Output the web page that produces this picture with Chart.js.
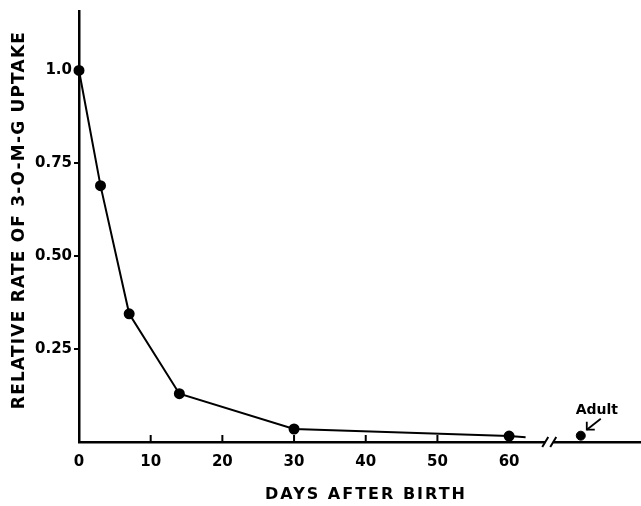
<!DOCTYPE html>
<html>
<head>
<meta charset="utf-8">
<script src="https://cdn.jsdelivr.net/npm/chart.js@4.4.0/dist/chart.umd.min.js"></script>
<style>
  html, body { margin: 0; padding: 0; background: #fff; }
  #wrap { width: 641px; height: 506px; position: relative; }
</style>
</head>
<body>
<div id="wrap"><canvas id="myChart"></canvas></div>
<script>
// values
var days = [0, 3, 7, 14, 30, 60];
var rate = [1.0, 0.69, 0.345, 0.13, 0.035, 0.016];
// the line runs on a little past the day-60 point
var tailDay = 62.3;
var tailRate = 0.013;
var adultDay = 70;
var adultRate = 0.017;
var breakDay = 65.6;

var xTicks = [0, 10, 20, 30, 40, 50, 60];
var yTicks = [0.25, 0.5, 0.75, 1.0];

var FONT = '"DejaVu Sans", sans-serif';

var curve = days.map(function (d, i) { return { x: d, y: rate[i] } });
curve.push({ x: tailDay, y: tailRate });
var curveRadius = days.map(function () { return 4.5 });
curveRadius.push(0);

// extra bits: inside x ticks, axis break, Adult label, axis titles
var decor = {
    id: 'decor',
    afterDraw: function (chart) {
        var ctx = chart.ctx;
        var xs = chart.scales.x;
        var area = chart.chartArea;
        var bottom = area.bottom;
        ctx.save();
        ctx.strokeStyle = '#000';
        ctx.fillStyle = '#000';
        ctx.lineWidth = 2;

        // x ticks point up into the plot
        xTicks.forEach(function (d) {
            if (d === 0) return;
            var px = xs.getPixelForValue(d);
            ctx.beginPath();
            ctx.moveTo(px, bottom);
            ctx.lineTo(px, bottom - 7);
            ctx.stroke();
        });

        // axis break  //
        var bx = xs.getPixelForValue(breakDay);
        ctx.fillStyle = '#fff';
        ctx.fillRect(bx - 4, bottom - 3, 8, 6);
        ctx.fillStyle = '#000';
        [-4, 4].forEach(function (off) {
            ctx.beginPath();
            ctx.moveTo(bx + off - 3, bottom + 5);
            ctx.lineTo(bx + off + 3, bottom - 5);
            ctx.stroke();
        });

        // Adult label and arrow
        var ax = xs.getPixelForValue(adultDay);
        var ay = chart.scales.y.getPixelForValue(adultRate);
        ctx.font = 'bold 14px ' + FONT;
        ctx.textAlign = 'center';
        ctx.textBaseline = 'alphabetic';
        ctx.fillText('Adult', ax + 16, ay - 22);
        ctx.lineWidth = 1.8;
        ctx.beginPath();
        ctx.moveTo(ax + 20, ay - 17);
        ctx.lineTo(ax + 6, ay - 6);
        ctx.stroke();
        ctx.beginPath();
        ctx.moveTo(ax + 6, ay - 14);
        ctx.lineTo(ax + 6, ay - 6);
        ctx.lineTo(ax + 14, ay - 6);
        ctx.stroke();

        // axis titles
        ctx.font = 'bold 16px ' + FONT;
        ctx.letterSpacing = '2px';
        ctx.textAlign = 'center';
        ctx.textBaseline = 'middle';
        ctx.fillText('DAYS AFTER BIRTH', 366, 495);

        ctx.translate(20, 220);
        ctx.rotate(-Math.PI / 2);
        ctx.font = 'bold 17px ' + FONT;
        ctx.letterSpacing = '1.2px';
        ctx.fillText('RELATIVE RATE OF 3-O-M-G UPTAKE', 0, 0);
        ctx.restore();
    }
};

var bieudo = new Chart(document.getElementById('myChart'), {
    type: 'scatter',
    data: {
        datasets: [{
            data: curve,
            showLine: true,
            borderColor: '#000',
            backgroundColor: '#000',
            borderWidth: 2,
            pointRadius: curveRadius,
            pointHoverRadius: curveRadius,
            clip: false
        }, {
            data: [{ x: adultDay, y: adultRate }],
            borderColor: '#000',
            backgroundColor: '#000',
            pointRadius: 4.5,
            clip: false
        }]
    },
    options: {
        responsive: true,
        maintainAspectRatio: false,
        animation: false,
        events: [],
        layout: { autoPadding: false, padding: { top: 8, right: 0, left: 0, bottom: 0 } },
        plugins: { legend: { display: false }, tooltip: { enabled: false } },
        scales: {
            x: {
                type: 'linear',
                min: 0,
                max: 78.4,
                afterFit: function (s) { s.height = 64 },
                afterBuildTicks: function (s) { s.ticks = xTicks.map(function (v) { return { value: v } }) },
                grid: { display: false },
                border: { display: true, color: '#000', width: 2.5 },
                ticks: {
                    color: '#000',
                    padding: 3,
                    maxRotation: 0,
                    font: { family: FONT, size: 15, weight: 'bold' },
                    callback: function (v) { return String(v) }
                }
            },
            y: {
                type: 'linear',
                min: 0,
                max: 1.16,
                afterFit: function (s) { s.width = 79 },
                afterBuildTicks: function (s) { s.ticks = yTicks.map(function (v) { return { value: v } }) },
                grid: { drawOnChartArea: false, drawTicks: true, tickLength: 5, color: '#000', lineWidth: 2 },
                border: { display: true, color: '#000', width: 2.5 },
                ticks: {
                    color: '#000',
                    padding: 2,
                    font: { family: FONT, size: 15, weight: 'bold' },
                    callback: function (v) { return v === 1 ? '1.0' : v.toFixed(2) }
                }
            }
        }
    },
    plugins: [decor]
});
</script>
</body>
</html>
